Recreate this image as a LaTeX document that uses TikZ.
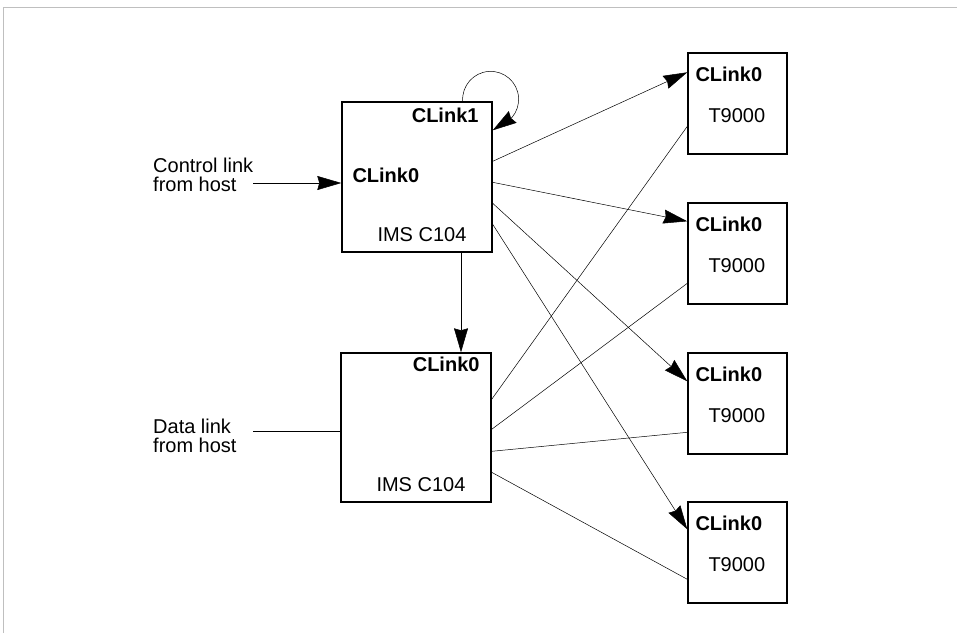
\documentclass[tikz,border=0pt]{standalone}
\usepackage{fontspec}
\setmainfont{Liberation Sans}
\usetikzlibrary{arrows.meta, calc, positioning}

\begin{document}
\begin{tikzpicture}[x=1pt, y=-1pt,
  unit/.style={draw, line width=1.4pt, minimum width=150pt, minimum height=150pt, inner sep=0pt},
  cpu/.style={draw, line width=1.4pt, minimum width=99pt, minimum height=101pt, inner sep=0pt},
  lbl/.style={inner sep=0pt, font=\fontsize{20}{19}\selectfont},
  blbl/.style={inner sep=0pt, font=\fontsize{20}{19}\selectfont\bfseries},
  wire/.style={line width=0.5pt},
  tip/.style={-{Stealth[length=24pt, width=14pt, inset=2pt]}}]
\useasboundingbox (0,0) rectangle (957,633);
\draw[gray!50, line width=0.6pt] (3,633) -- (3,7) -- (957,7);
% switches
\node[unit] (c104a) at (417,177) {};
\node[unit, minimum height=149pt] (c104b) at (416,427.5) {};
% transputers
\node[cpu] (t1) at (737.5,103.5) {};
\node[cpu] (t2) at (737.5,253.5) {};
\node[cpu] (t3) at (737.5,403.5) {};
\node[cpu] (t4) at (737.5,552.5) {};
% box labels
\node[blbl, anchor=base east] (a1) at ([xshift=-14pt, yshift=-21pt]c104a.north east) {CLink1};
\node[blbl, anchor=base west] (a0) at ([xshift=11pt, yshift=-81pt]c104a.north west) {CLink0};
\node[lbl, anchor=base west] (aname) at ([xshift=36pt, yshift=-140pt]c104a.north west) {IMS C104};
\node[blbl, anchor=base east] (b0) at ([xshift=-12pt, yshift=-19pt]c104b.north east) {CLink0};
\node[lbl, anchor=base west] (bname) at ([xshift=36pt, yshift=-139pt]c104b.north west) {IMS C104};
\foreach \t in {t1,t2,t3,t4}{
  \node[blbl, anchor=base west] (\t lk) at ([xshift=8pt, yshift=-29pt]\t.north west) {CLink0};
  \node[lbl, anchor=base west] (\t name) at ([xshift=21pt, yshift=-70pt]\t.north west) {T9000};
}
% host links
\node[lbl, align=left, anchor=west] (ctl) at (153,175) {Control link\\from host};
\node[lbl, align=left, anchor=west] (dat) at (153,436) {Data link\\from host};
\coordinate (ctlin) at (253,183);
\coordinate (datin) at (253,431);
\draw[wire, tip] (ctlin) -- (c104a.west |- ctlin);
\draw[wire] (datin) -- (c104b.west |- datin);
% control network
\draw[wire, tip] ([xshift=-30pt]c104a.north east) arc[start angle=184, end angle=-40, radius=28pt] -- ([yshift=-29pt]c104a.north east);
\draw[wire, tip] ([xshift=44pt]c104a.south) -- ([xshift=45pt]c104b.north);
\draw[wire, tip] ([yshift=-60pt]c104a.north east) -- ([yshift=-20pt]t1.north west);
\draw[wire, tip] ([yshift=-81pt]c104a.north east) -- ([yshift=-19pt]t2.north west);
\draw[wire, tip] ([yshift=-102pt]c104a.north east) -- ([yshift=-29pt]t3.north west);
\draw[wire, tip] ([yshift=-123pt]c104a.north east) -- ([yshift=-28pt]t4.north west);
% data network
\draw[wire] ([yshift=-47pt]c104b.north east) -- ([yshift=-74pt]t1.north west);
\draw[wire] ([yshift=-77pt]c104b.north east) -- ([yshift=-81pt]t2.north west);
\draw[wire] ([yshift=-99pt]c104b.north east) -- ([yshift=-80pt]t3.north west);
\draw[wire] ([yshift=-120pt]c104b.north east) -- ([yshift=-78pt]t4.north west);
\end{tikzpicture}
\end{document}
